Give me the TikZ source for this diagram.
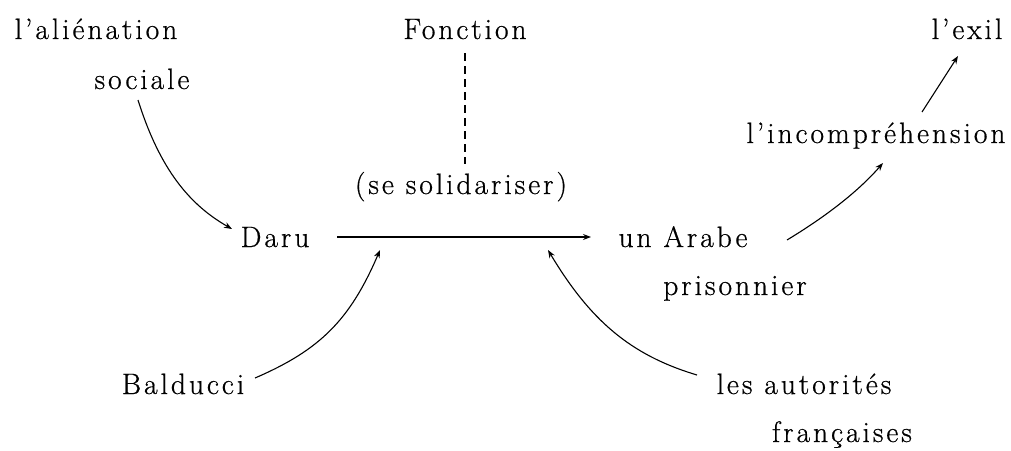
\documentclass[tikz,border=0pt]{standalone}
\usepackage{fontspec}
\setmainfont{Latin Modern Roman}[LetterSpace=10,FakeBold=0.6]
\usetikzlibrary{arrows.meta}
\begin{document}
\begin{tikzpicture}[x=1pt,y=-1pt,
  lbl/.style={inner sep=0pt,anchor=base,font=\fontsize{29.5}{34}\selectfont},
  conn/.style={line width=1.1pt,-{Stealth[length=8pt,width=6pt]}},
  dashconn/.style={line width=1.1pt,dash pattern=on 8pt off 5pt}]
\useasboundingbox (0,0) rectangle (1011,450);
\node[lbl] (alien) at (96,39) {l'aliénation};
\node[lbl] (sociale) at (142,89) {sociale};
\node[lbl] (fonction) at (465,39) {Fonction};
\node[lbl] (exil) at (967,39) {l'exil};
\node[lbl] (incomp) at (876,143) {l'incompréhension};
\node[lbl] (solid) at (461,194) {(se solidariser)};
\node[lbl] (daru) at (275,247) {Daru};
\node[lbl] (arabe) at (683,247) {un Arabe};
\node[lbl] (prison) at (735,295) {prisonnier};
\node[lbl] (balducci) at (183,394) {Balducci};
\node[lbl] (autor) at (804,394) {les autorités};
\node[lbl] (franc) at (842,442) {françaises};

\coordinate (h1) at (337,237);
\coordinate (h2) at (591,237);
\coordinate (bt) at (380,250);
\coordinate (at) at (548,250);
\coordinate (fd) at (465,53);
\coordinate (sd) at (465,164);

\draw[conn] (h1) -- (h2);
\draw[dashconn] (fd) -- (sd);
\draw[conn] (138,100) .. controls (160,170) and (190,205) .. (232,229);
\draw[conn] (255,378) .. controls (320,350) and (350,320) .. (bt);
\draw[conn] (697,375) .. controls (630,355) and (590,320) .. (at);
\draw[conn] (787,240) .. controls (820,220) and (855,195) .. (883,163);
\draw[conn] (922,112) -- (958,56);
\end{tikzpicture}
\end{document}
